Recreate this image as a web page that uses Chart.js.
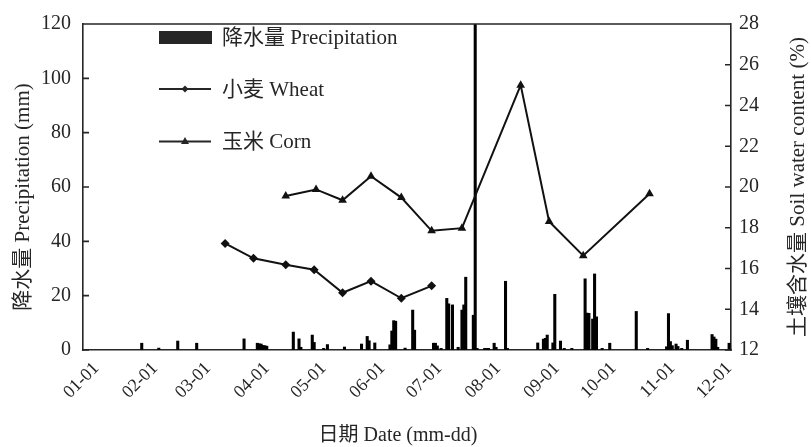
<!DOCTYPE html>
<html>
<head>
<meta charset="utf-8">
<script src="https://cdn.jsdelivr.net/npm/chart.js@4.4.1/dist/chart.umd.min.js"></script>
<style>
  html, body { margin: 0; padding: 0; background: #fff; }
  #wrap { width: 811px; height: 447px; }
</style>
</head>
<body>
<div id="wrap"><canvas id="c" width="811" height="447"></canvas></div>
<script>
// Month starts (day of year, 01-01 = 0) used for the date axis
const monthStarts = [0, 31, 59, 90, 120, 151, 181, 212, 243, 273, 304, 334];
const monthLabels = ['01-01','02-01','03-01','04-01','05-01','06-01','07-01','08-01','09-01','10-01','11-01','12-01'];

// Daily precipitation (mm)
const precipDates = ['01-25','02-03','02-13','02-23','03-20','03-27','03-28','03-29','03-30','03-31','04-01',
  '04-15','04-18','04-19','04-25','04-26','05-01','05-03','05-12','05-21','05-24','05-25','05-28',
  '06-05','06-06','06-07','06-08','06-13','06-17','06-18','06-28','06-29','06-30','07-02',
  '07-05','07-06','07-08','07-11','07-13','07-14','07-15','07-19','07-20','07-21','07-25','07-26','07-27',
  '07-30','07-31','08-05','08-06','08-22','08-25','08-26','08-27','08-30','08-31','09-03','09-05','09-09',
  '09-16','09-17','09-18','09-20','09-21','09-22','09-25','09-29','10-13','10-19','10-29','10-30','10-31',
  '11-01','11-03','11-04','11-06','11-09','11-22','11-23','11-24','11-25','12-01'];
const precipValues = [2.5,0.7,3.3,2.5,4.1,2.5,2.3,2.2,1.7,1.6,1.4,
  6.6,4.1,1.0,5.5,2.8,0.6,2.0,1.1,2.2,5.0,3.4,2.6,
  1.9,7.0,10.8,10.6,0.7,14.7,7.3,2.5,2.5,1.5,0.6,
  19.0,17.0,16.6,1.0,14.7,16.6,26.8,12.8,150,0.6,0.6,0.6,0.6,
  2.5,1.0,25.3,0.6,2.6,4.0,4.3,5.5,2.6,20.5,3.3,0.6,0.6,
  26.2,13.6,13.5,11.4,28.0,12.2,0.6,2.5,14.2,0.6,1.2,13.4,3.1,
  1.6,2.2,1.3,0.6,3.6,5.7,4.8,4.0,1.0,2.5];

// Soil water content (%)
const wheatDates = ['03-10','03-25','04-11','04-26','05-11','05-26','06-11','06-27'];
const wheatValues = [17.23,16.50,16.18,15.94,14.81,15.38,14.54,15.15];
const cornDates = ['04-11','04-27','05-11','05-26','06-11','06-27','07-13','08-13','08-28','09-15','10-20'];
const cornValues = [19.56,19.88,19.35,20.53,19.48,17.85,17.98,25.00,18.31,16.63,19.67];

function dayOfYear(md) {
  const [m, d] = md.split('-').map(Number);
  return monthStarts[m - 1] + d - 1;
}
const pairs = (dates, vals) => dates.map((d, i) => ({ x: dayOfYear(d), y: vals[i] }));

const INK = '#262626';
const SERIF = '"Liberation Serif", "Times New Roman", "Noto Sans CJK SC", serif';

// Frame, inward ticks, axis titles and legend
const decor = {
  id: 'decor',
  afterDraw(chart) {
    const ctx = chart.ctx;
    const a = chart.chartArea;
    const y = chart.scales.y, y2 = chart.scales.y2;
    ctx.save();
    ctx.strokeStyle = INK;
    ctx.lineWidth = 1.6;
    ctx.beginPath();
    ctx.moveTo(a.left, a.top); ctx.lineTo(a.right, a.top);
    y.ticks.forEach(t => {
      const p = y.getPixelForValue(t.value);
      ctx.moveTo(a.left, p); ctx.lineTo(a.left + 6, p);
    });
    y2.ticks.forEach(t => {
      const p = y2.getPixelForValue(t.value);
      ctx.moveTo(a.right - 6, p); ctx.lineTo(a.right, p);
    });
    ctx.stroke();

    ctx.fillStyle = INK;
    ctx.textAlign = 'center';
    ctx.textBaseline = 'middle';
    ctx.font = '21px ' + SERIF;
    ctx.save(); ctx.translate(23, 197); ctx.rotate(-Math.PI / 2);
    ctx.fillText('降水量 Precipitation (mm)', 0, 0); ctx.restore();
    ctx.save(); ctx.translate(798, 187); ctx.rotate(-Math.PI / 2);
    ctx.fillText('土壤含水量 Soil water content (%)', 0, 0); ctx.restore();
    ctx.font = '20px ' + SERIF;
    ctx.fillText('日期 Date (mm-dd)', 398, 436);

    // legend
    ctx.textAlign = 'left';
    ctx.font = '21px ' + SERIF;
    ctx.fillRect(159, 31, 53, 13);
    ctx.fillText('降水量 Precipitation', 222, 38);
    ctx.lineWidth = 2;
    ctx.beginPath(); ctx.moveTo(159, 89); ctx.lineTo(211, 89); ctx.stroke();
    ctx.beginPath(); ctx.moveTo(185, 85.5); ctx.lineTo(188.5, 89); ctx.lineTo(185, 92.5); ctx.lineTo(181.5, 89); ctx.closePath(); ctx.fill();
    ctx.fillText('小麦 Wheat', 222, 90);
    ctx.beginPath(); ctx.moveTo(159, 141.5); ctx.lineTo(211, 141.5); ctx.stroke();
    ctx.beginPath(); ctx.moveTo(185, 137); ctx.lineTo(189, 144); ctx.lineTo(181, 144); ctx.closePath(); ctx.fill();
    ctx.fillText('玉米 Corn', 222, 142);
    ctx.restore();
  }
};

new Chart(document.getElementById('c'), {
  type: 'bar',
  data: {
    datasets: [
      {
        type: 'bar',
        label: '降水量 Precipitation',
        data: pairs(precipDates, precipValues),
        backgroundColor: '#000',
        borderWidth: 0,
        barThickness: 2.4,
        yAxisID: 'y',
        order: 2
      },
      {
        type: 'line',
        label: '小麦 Wheat',
        data: pairs(wheatDates, wheatValues),
        borderColor: '#111',
        backgroundColor: '#111',
        borderWidth: 2,
        pointStyle: 'rectRot',
        pointRadius: 4.5,
        pointBorderWidth: 0,
        tension: 0,
        yAxisID: 'y2',
        order: 1
      },
      {
        type: 'line',
        label: '玉米 Corn',
        data: pairs(cornDates, cornValues),
        borderColor: '#111',
        backgroundColor: '#111',
        borderWidth: 2,
        pointStyle: 'triangle',
        pointRadius: 5,
        pointBorderWidth: 0,
        tension: 0,
        yAxisID: 'y2',
        order: 1
      }
    ]
  },
  options: {
    responsive: false,
    animation: false,
    layout: { padding: { top: 18, right: 0, left: 0, bottom: 0 } },
    plugins: { legend: { display: false }, tooltip: { enabled: false } },
    scales: {
      x: {
        type: 'linear',
        offset: false,
        min: -7,
        max: 335,
        afterBuildTicks: s => { s.ticks = monthStarts.map(v => ({ value: v })); },
        afterFit: s => { s.height = 97; },
        grid: { drawOnChartArea: false, drawTicks: false },
        border: { display: true, color: INK, width: 1.6 },
        ticks: {
          autoSkip: false,
          minRotation: 45,
          maxRotation: 45,
          padding: 8,
          color: INK,
          font: { family: SERIF, size: 18 },
          callback: v => monthLabels[monthStarts.indexOf(v)]
        }
      },
      y: {
        position: 'left',
        min: 0,
        max: 120,
        afterFit: s => { s.width = 83; },
        grid: { drawOnChartArea: false, drawTicks: false },
        border: { display: true, color: INK, width: 1.6 },
        ticks: { stepSize: 20, padding: 12, color: INK, font: { family: SERIF, size: 20 } }
      },
      y2: {
        position: 'right',
        min: 12,
        max: 28,
        afterFit: s => { s.width = 80; },
        grid: { drawOnChartArea: false, drawTicks: false },
        border: { display: true, color: INK, width: 1.6 },
        ticks: { stepSize: 2, padding: 8, color: INK, font: { family: SERIF, size: 20 } }
      }
    }
  },
  plugins: [decor]
});
</script>
</body>
</html>
